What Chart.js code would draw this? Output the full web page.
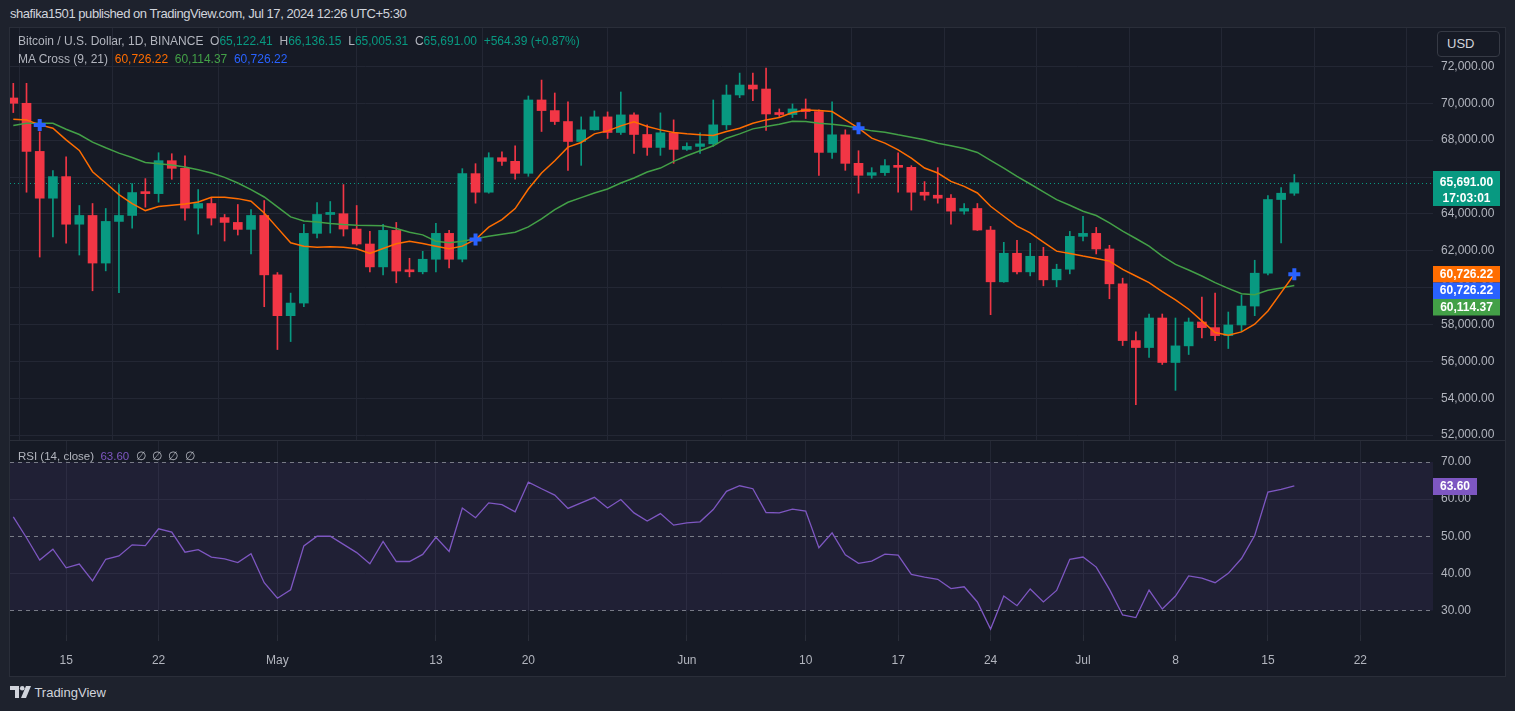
<!DOCTYPE html>
<html><head><meta charset="utf-8">
<script src="https://cdn.jsdelivr.net/npm/chart.js@4.4.1/dist/chart.umd.min.js"></script>
<style>
html,body{margin:0;padding:0;background:#1e222d;width:1515px;height:711px;overflow:hidden;font-family:"Liberation Sans",Arial,sans-serif;}
.abs{position:absolute;white-space:nowrap;line-height:16px;}
#panel{position:absolute;left:9px;top:27px;width:1497px;height:650px;background:#161a25;border:1px solid #2a2e39;box-sizing:border-box;}
#sep{position:absolute;left:9px;top:440px;width:1497px;height:1px;background:#2a2e39;}
canvas{position:absolute;}
#usd{position:absolute;left:1437px;top:31px;width:63px;height:26px;box-sizing:border-box;border:1px solid #363a45;border-radius:4px;color:#d1d4dc;font-size:13px;line-height:24px;padding-left:9px;background:#161a25;}
.g{color:#b2b5be}.up{color:#089981}
</style></head>
<body>
<div class="abs" style="left:10px;top:6px;font-size:13px;letter-spacing:-0.45px;color:#d1d4dc">shafika1501 published on TradingView.com, Jul 17, 2024 12:26 UTC+5:30</div>
<div id="panel"></div>
<canvas id="main" width="1495" height="412" style="left:10px;top:28px"></canvas>
<canvas id="rsi" width="1495" height="235" style="left:10px;top:441px"></canvas>
<div id="sep"></div>
<div id="usd">USD</div>
<div class="abs" style="left:18px;top:33px;font-size:12px;color:#b2b5be">Bitcoin / U.S. Dollar, 1D, BINANCE&nbsp;&nbsp;O<span class="up">65,122.41</span>&nbsp;&nbsp;H<span class="up">66,136.15</span>&nbsp;&nbsp;L<span class="up">65,005.31</span>&nbsp;&nbsp;C<span class="up">65,691.00</span>&nbsp;&nbsp;<span class="up">+564.39 (+0.87%)</span></div>
<div class="abs" style="left:18px;top:51px;font-size:12px;color:#b2b5be">MA Cross (9, 21)&nbsp;&nbsp;<span style="color:#ff6d00">60,726.22</span>&nbsp;&nbsp;<span style="color:#43a047">60,114.37</span>&nbsp;&nbsp;<span style="color:#2962ff">60,726.22</span></div>
<div class="abs" style="left:18px;top:448px;font-size:11.5px;color:#b2b5be">RSI (14, close)&nbsp;&nbsp;<span style="color:#7e57c2">63.60</span>&nbsp;&nbsp;∅&nbsp;&nbsp;∅&nbsp;&nbsp;∅&nbsp;&nbsp;∅</div>
<div class="abs" style="left:10px;top:685px;font-size:13px;color:#d1d4dc;">
<svg width="21" height="12" style="vertical-align:-1px"><path d="M0 0h9v12h-4v-8h-5z" fill="#d1d4dc"/><circle cx="12.2" cy="2.3" r="2.3" fill="#d1d4dc"/><path d="M16 0h5l-5 12h-5z" fill="#d1d4dc"/></svg> TradingView</div>
<script>
const dates = ['Apr 11','Apr 12','Apr 13','Apr 14','Apr 15','Apr 16','Apr 17','Apr 18','Apr 19','Apr 20','Apr 21','Apr 22','Apr 23','Apr 24','Apr 25','Apr 26','Apr 27','Apr 28','Apr 29','Apr 30',
'May 1','May 2','May 3','May 4','May 5','May 6','May 7','May 8','May 9','May 10','May 11','May 12','May 13','May 14','May 15','May 16','May 17','May 18','May 19','May 20','May 21','May 22','May 23','May 24','May 25','May 26','May 27','May 28','May 29','May 30','May 31',
'Jun 1','Jun 2','Jun 3','Jun 4','Jun 5','Jun 6','Jun 7','Jun 8','Jun 9','Jun 10','Jun 11','Jun 12','Jun 13','Jun 14','Jun 15','Jun 16','Jun 17','Jun 18','Jun 19','Jun 20','Jun 21','Jun 22','Jun 23','Jun 24','Jun 25','Jun 26','Jun 27','Jun 28','Jun 29','Jun 30',
'Jul 1','Jul 2','Jul 3','Jul 4','Jul 5','Jul 6','Jul 7','Jul 8','Jul 9','Jul 10','Jul 11','Jul 12','Jul 13','Jul 14','Jul 15','Jul 16','Jul 17'];
const open = [70288,70000,67390,64852,66022,63441,63916,61334,63592,63916,65158,65100,66886,66472,64312,64564,63800,63538,63160,63916,
60694,58480,59164,62944,63970,64010,63178,62368,61126,63106,60900,60860,61540,62944,61540,66184,65176,67048,66850,66202,70180,69604,69010,67930,68560,69262,68416,69370,68308,67606,68398,
67498,67660,67800,68830,70450,70990,70774,69420,69390,69694,69550,67336,68290,66742,66094,66238,66616,66526,65176,65014,64852,64150,64294,63124,60316,61864,60856,61702,60424,61000,
62782,62944,62098,60208,57130,56752,58354,55942,56842,58138,57832,57400,57976,59002,60784,64780,65122.41];
const high = [71081,71081,68452,66346,67098,64456,64564,64294,65590,65644,65914,67318,67264,67156,65320,64852,63970,64510,64240,64726,
60820,59704,63430,64618,64672,65590,64456,63052,63430,63538,61594,61972,63484,63106,66454,66724,67318,67372,67696,70396,71260,70558,70072,69262,69586,69532,70612,69478,68830,69478,69100,
67858,68398,70180,70990,71638,71638,71908,69694,69964,70234,69640,70072,68560,67426,66508,66940,67318,66616,65752,66508,65050,64564,64564,63322,62458,62566,62404,62188,61270,63052,
63862,63268,62296,60514,57598,58570,58570,58354,58354,59488,59704,58678,59596,61486,64996,65428,66136.15];
const low = [69496,65176,61660,62746,62418,61770,59830,60910,59722,63232,64366,64636,65878,63664,62908,63394,62530,62854,61828,58966,
56644,57076,58966,62692,62962,62800,62300,60856,60694,60262,60586,60748,60856,61072,61396,64582,65122,66634,65878,66040,68470,68848,66364,66634,68540,68092,68308,67282,67174,67174,66742,
67444,67282,67660,68578,70306,70144,68524,69280,69226,69172,66094,67012,66364,65122,65932,66094,65176,64204,64744,64582,63448,63988,63100,58534,60290,60748,60640,60100,60046,60748,
62530,61828,59398,56860,53656,56212,55834,54430,56374,57274,57130,56698,57616,58480,60694,62422,65005.31];
const close = [70000,67390,64852,66022,63441,63916,61334,63592,63916,65158,65100,66886,66472,64312,64564,63772,63538,63160,63916,60694,
58480,59164,62944,63970,64010,63178,62368,61126,63106,60900,60860,61540,62944,61540,66184,65176,67048,66850,66202,70180,69604,69010,67930,68560,69262,68416,69370,68308,67606,68398,67498,
67660,67800,68830,70450,70990,70774,69420,69390,69694,69550,67336,68290,66742,66094,66238,66616,66526,65176,65014,64852,64150,64294,63124,60316,61864,60856,61702,60424,61000,62782,
62944,62098,60208,57130,56752,58354,55942,56842,58138,57832,57400,57976,59002,60784,64780,65122,65691.00];
const ma9 = [69140,69099,68829,68648,68018,67441,66288,65675,65045,64558,64180,64396,64468,64540,64648,64900,64900,64828,64684,64054,
63242,62432,62251,62197,62215,62197,62107,61855,62125,62377,62522,62395,62251,62107,62251,62612,63278,63693,64288,65351,66216,66883,67621,67874,68342,68504,68775,68991,68738,68558,68414,
68342,68288,68252,68468,68648,68919,69099,69225,69495,69639,69603,69549,69099,68648,68108,67837,67477,67027,66486,66216,65765,65495,65135,64414,63873,63333,62972,62468,61981,61855,
61711,61585,61441,60990,60630,60269,59783,59332,58828,58197,57566,57422,57602,58017,58738,59729,60726.22];
const ma21 = [68793,68919,68919,68919,68594,68306,67892,67585,67297,67063,66792,66720,66648,66540,66396,66216,65982,65675,65315,64918,
64378,63837,63621,63567,63477,63423,63387,63369,63351,63206,63009,62864,62522,62432,62522,62648,62792,62900,63009,63297,63729,64234,64630,64882,65135,65351,65675,65945,66270,66486,66847,
67153,67423,67693,68108,68342,68612,68738,68865,69027,69009,68919,68865,68775,68648,68504,68432,68288,68162,68018,67837,67693,67549,67333,66901,66486,66036,65621,65189,64775,64468,
64144,63910,63513,63063,62666,62251,61711,61261,60954,60630,60269,59963,59675,59621,59855,59981,60114.37];
const rsi = [55.2,49.6,43.6,46.5,41.5,42.5,38.0,43.8,44.7,47.7,47.5,52.0,51.1,45.7,46.4,44.4,43.9,42.9,45.3,37.5,
33.3,35.6,47.4,50.0,50.0,47.8,45.6,42.6,48.6,43.2,43.2,45.1,49.7,45.9,57.6,55.0,59.0,58.5,56.6,64.6,62.8,61.1,57.5,59.0,60.5,57.6,59.9,56.3,54.1,56.1,53.0,
53.6,53.9,57.2,62.1,63.6,62.8,56.4,56.3,57.3,56.8,46.9,50.9,45.0,42.7,43.3,45.2,44.9,39.7,39.0,38.4,35.9,36.4,32.3,25.0,33.9,31.3,35.8,32.3,35.4,43.8,
44.4,41.7,35.7,28.8,28.1,35.5,30.4,33.9,39.3,38.7,37.5,40.0,44.0,50.2,61.9,62.6,63.6];
const crossIdx = [2,35,64,97];
const crossVal = [68822,62612,68648,60726.22];
const priceTicks = [52000,54000,56000,58000,60000,62000,64000,66000,68000,70000,72000];
const rsiTicks = [30,40,50,60,70];
const rsiBands = [70,50,30];
const timeTickIdx = [4,11,20,32,39,51,60,67,74,81,88,95,102];
const timeTickText = ['15','22','May','13','20','Jun','10','17','24','Jul','8','15','22'];
const lastPrice = 65691.00, lastTimer = '17:03:01';
const maFast = 60726.22, maSlow = 60114.37, rsiLast = 63.60;

const UP='#089981', DN='#f23645', GRID='#232734', TXT='#b2b5be';
const F='"Liberation Sans", Arial, sans-serif';
const fmt = v => Number(v).toLocaleString('en-US',{minimumFractionDigits:2,maximumFractionDigits:2});
const idx = dates.map((d,i)=>i);
const candleColors = idx.map(i => close[i] >= open[i] ? UP : DN);

function zeroPad(s){ s.paddingTop=0; s.paddingBottom=0; s.paddingLeft=0; s.paddingRight=0; }
function xScale(show){
  return {type:'linear', min:-0.25, max:107.5, offset:false,
    afterBuildTicks: s => { s.ticks = timeTickIdx.map(v=>({value:v})); },
    afterFit: s => { s.height = show ? 41 : 0; zeroPad(s); },
    grid:{color:GRID, drawTicks:show, tickLength:6, tickColor:'#2a2e39', lineWidth:1},
    border:{display:false},
    ticks:{display:show, autoSkip:false, maxRotation:0, minRotation:0, padding:12, color:TXT,
      font:{family:F,size:12}, callback: v => timeTickText[timeTickIdx.indexOf(v)] }
  };
}
Chart.defaults.animation = false;

const mainPlugin = {
  id:'mainDeco',
  beforeDatasetsDraw(c){
    const ctx=c.ctx, a=c.chartArea, y=c.scales.y.getPixelForValue(lastPrice);
    ctx.save(); ctx.strokeStyle=UP; ctx.lineWidth=1; ctx.setLineDash([1,3]);
    ctx.beginPath(); ctx.moveTo(a.left, Math.round(y)+0.5); ctx.lineTo(a.right, Math.round(y)+0.5); ctx.stroke(); ctx.restore();
  },
  afterDraw(c){
    const ctx=c.ctx, a=c.chartArea, s=c.scales.y, x0=a.right, w=67;
    ctx.save();
    ctx.textAlign='center'; ctx.textBaseline='middle';
    let y=Math.round(s.getPixelForValue(lastPrice));
    ctx.fillStyle=UP; ctx.fillRect(x0, y-12, w, 35);
    ctx.fillStyle='#fff'; ctx.font='bold 12px '+F;
    ctx.fillText(fmt(lastPrice), x0+w/2, y); ctx.fillText(lastTimer, x0+w/2, y+16);
    const boxes=[[maFast,'#ff6d00'],[maFast,'#2962ff'],[maSlow,'#43a047']];
    let prevBottom=-1e9;
    for(const [v,col] of boxes){
      let top=Math.max(Math.round(s.getPixelForValue(v))-8, prevBottom);
      ctx.fillStyle=col; ctx.fillRect(x0, top, w, 16.5);
      ctx.fillStyle='#fff'; ctx.fillText(fmt(v), x0+w/2, top+8.5);
      prevBottom=top+16.5;
    }
    ctx.restore();
  }
};

new Chart(document.getElementById('main'), {
  type:'bar',
  data:{datasets:[
    {type:'line', data: crossIdx.map((x,k)=>({x, y:crossVal[k]})), showLine:false, pointStyle:'cross',
      pointRadius:6, pointBorderWidth:4, pointBorderColor:'#2962ff', pointBackgroundColor:'#2962ff', order:0},
    {type:'line', data: idx.map(i=>({x:i,y:ma9[i]})), borderColor:'#ff6d00', borderWidth:1.5, pointRadius:0, tension:0, order:1},
    {type:'line', data: idx.map(i=>({x:i,y:ma21[i]})), borderColor:'#43a047', borderWidth:1.5, pointRadius:0, tension:0, order:2},
    {data: idx.map(i=>({x:i,y:[open[i],close[i]]})), backgroundColor:candleColors, barThickness:9, grouped:false, minBarLength:2, borderWidth:0, borderSkipped:false, order:3},
    {data: idx.map(i=>({x:i,y:[low[i],high[i]]})), backgroundColor:candleColors, barThickness:1, grouped:false, borderWidth:0, borderSkipped:false, order:4}
  ]},
  options:{responsive:false, animation:false, devicePixelRatio:1,
    layout:{padding:0, autoPadding:false},
    plugins:{legend:{display:false}, tooltip:{enabled:false}},
    scales:{
      x: xScale(false),
      y: {position:'right', min:51737, max:74083,
        afterBuildTicks: s => { s.ticks = priceTicks.map(v=>({value:v})); },
        afterFit: s => { s.width = 72; zeroPad(s); },
        grid:{color:GRID, drawTicks:false}, border:{display:false},
        ticks:{color:TXT, padding:8, autoSkip:false, font:{family:F,size:12}, callback: v => fmt(v)}
      }
    }
  },
  plugins:[mainPlugin]
});

const rsiPlugin = {
  id:'rsiDeco',
  beforeDatasetsDraw(c){
    const ctx=c.ctx, a=c.chartArea, s=c.scales.y;
    const y70=s.getPixelForValue(rsiBands[0]), y30=s.getPixelForValue(rsiBands[2]);
    ctx.save();
    ctx.fillStyle='rgba(126,87,194,0.1)'; ctx.fillRect(a.left, y70, a.right-a.left, y30-y70);
    ctx.strokeStyle='#787b86'; ctx.lineWidth=1; ctx.setLineDash([4,4]);
    for(const v of rsiBands){ const y=Math.round(s.getPixelForValue(v))+0.5;
      ctx.beginPath(); ctx.moveTo(a.left,y); ctx.lineTo(a.right,y); ctx.stroke(); }
    ctx.restore();
  },
  afterDraw(c){
    const ctx=c.ctx, a=c.chartArea, s=c.scales.y, y=Math.round(s.getPixelForValue(rsiLast));
    ctx.save(); ctx.fillStyle='#7e57c2'; ctx.fillRect(a.right, y-8, 44, 17);
    ctx.fillStyle='#fff'; ctx.font='bold 12px '+F; ctx.textAlign='center'; ctx.textBaseline='middle';
    ctx.fillText(rsiLast.toFixed(2), a.right+22, y+0.5); ctx.restore();
  }
};

new Chart(document.getElementById('rsi'), {
  type:'line',
  data:{datasets:[{data: idx.map(i=>({x:i,y:rsi[i]})), borderColor:'#7e57c2', borderWidth:1.3, pointRadius:0, tension:0}]},
  options:{responsive:false, animation:false, devicePixelRatio:1,
    layout:{padding:0, autoPadding:false},
    plugins:{legend:{display:false}, tooltip:{enabled:false}},
    scales:{
      x: xScale(true),
      y: {position:'right', min:23.4, max:75.66,
        afterBuildTicks: s => { s.ticks = rsiTicks.map(v=>({value:v})); },
        afterFit: s => { s.width = 72; zeroPad(s); },
        grid:{color: ctx => rsiBands.includes(ctx.tick && ctx.tick.value) ? 'rgba(0,0,0,0)' : GRID, drawTicks:false},
        border:{display:false},
        ticks:{color:TXT, padding:8, autoSkip:false, font:{family:F,size:12}, callback: v => Number(v).toFixed(2)}
      }
    }
  },
  plugins:[rsiPlugin]
});
</script>
</body></html>
